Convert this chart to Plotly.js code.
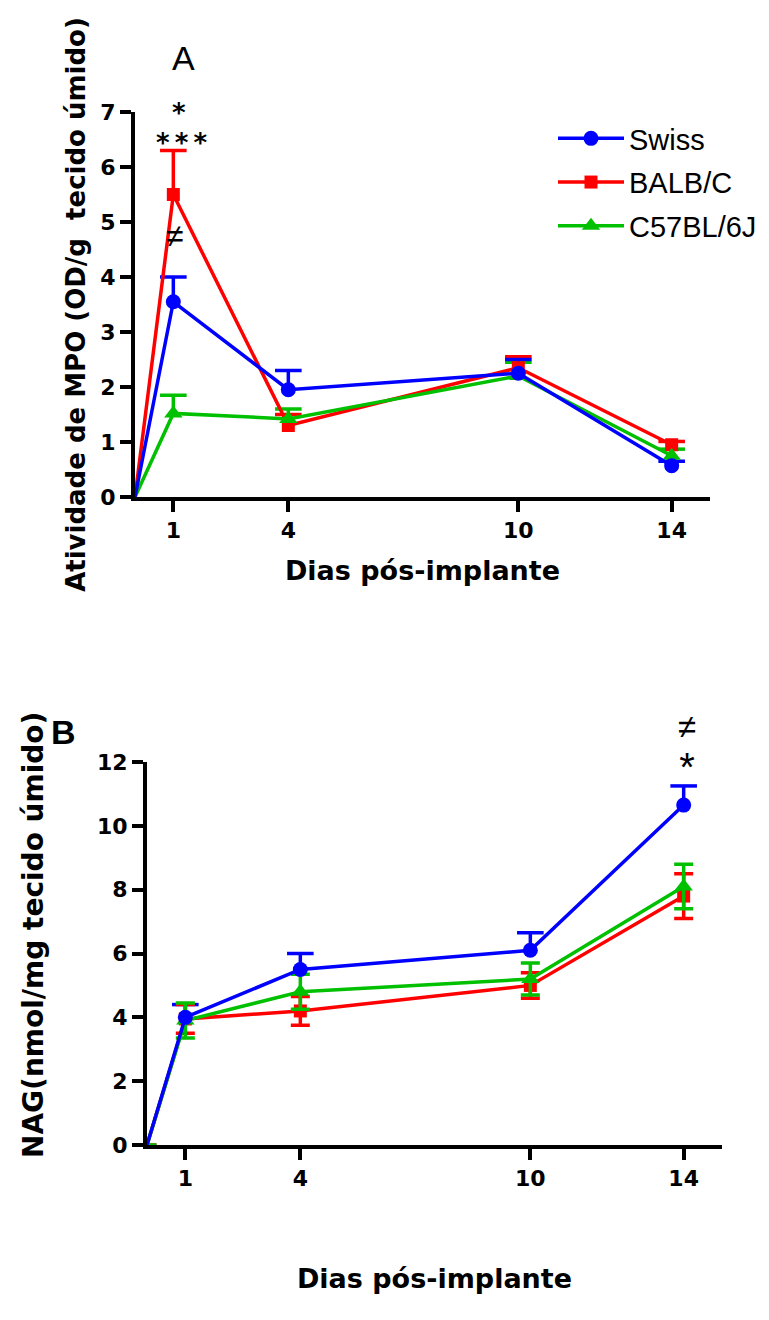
<!DOCTYPE html>
<html>
<head>
<meta charset="utf-8">
<script src="https://cdn.plot.ly/plotly-3.0.1.min.js"></script>
<style>html,body{margin:0;padding:0;background:#fff;}#chart{width:769px;height:1320px;}</style>
</head>
<body>
<div id="chart"></div>
<script>
// ---- Data ----
const days = [0, 1, 4, 10, 14];
const seriesNames = ["Swiss", "BALB/C", "C57BL/6J"];

// Panel A: MPO activity (mean, SEM)
const mpoSwiss = [0, 3.55, 1.95, 2.25, 0.57];
const mpoSwissErr = [0, 0.45, 0.35, 0.25, 0.08];
const mpoBalb = [0, 5.5, 1.3, 2.35, 0.95];
const mpoBalbErr = [0, 0.8, 0.2, 0.2, 0.06];
const mpoC57 = [0, 1.52, 1.42, 2.2, 0.75];
const mpoC57Err = [0, 0.33, 0.18, 0.25, 0.12];

// Panel B: NAG (mean, SEM)
const nagSwiss = [0, 4.0, 5.5, 6.1, 10.65];
const nagSwissErr = [0, 0.4, 0.5, 0.55, 0.6];
const nagBalb = [0, 3.95, 4.2, 5.0, 7.8];
const nagBalbErr = [0, 0.45, 0.45, 0.4, 0.7];
const nagC57 = [0, 3.9, 4.8, 5.2, 8.1];
const nagC57Err = [0, 0.55, 0.55, 0.5, 0.7];

const xTicks = [1, 4, 10, 14];
const xTickLabels = ["1", "4", "10", "14"];

// ---- Styles ----
const colors = ["#0000FF", "#FF0000", "#00C000"];
const symbols = ["circle", "square", "triangle-up"];
const msizes = [15, 13, 16];
const FONT = "Arial, 'Liberation Sans', Helvetica, sans-serif";
const BOLDFONT = "'DejaVu Sans', Verdana, sans-serif";
const LW = 3.5;
const CAPW = 19;

// main line+marker trace
function mainTrace(i, y, err, xa, ya, symmetric) {
  const t = {
    x: days, y: y, type: "scatter", mode: "lines+markers",
    name: seriesNames[i], showlegend: false,
    xaxis: xa, yaxis: ya, cliponaxis: false,
    line: { color: colors[i], width: LW },
    marker: { color: colors[i], symbol: symbols[i], opacity: 1,
      size: days.map((d, k) => k === 0 ? 0 : msizes[i]), line: { width: 0 } }
  };
  if (symmetric) {
    t.error_y = { type: "data", array: err, symmetric: true, visible: true,
      color: colors[i], thickness: LW, width: CAPW / 2 };
  }
  return t;
}
// upper-only error bar: cap marker at mean+err with a stem down to the mean
function upperErr(i, y, err, xa, ya) {
  return {
    x: days, y: y.map((v, k) => k === 0 ? null : v + err[k]),
    type: "scatter", mode: "markers", showlegend: false, hoverinfo: "skip",
    xaxis: xa, yaxis: ya, cliponaxis: false,
    marker: { symbol: "line-ew", size: CAPW, color: colors[i], opacity: 1,
      line: { color: colors[i], width: LW } },
    error_y: { type: "data", symmetric: false, array: err.map(() => 0), arrayminus: err,
      visible: true, color: colors[i], thickness: LW, width: 0 }
  };
}

const data = [
  upperErr(1, mpoBalb, mpoBalbErr, "x", "y"),
  upperErr(2, mpoC57, mpoC57Err, "x", "y"),
  upperErr(0, mpoSwiss, mpoSwissErr, "x", "y"),
  mainTrace(1, mpoBalb, mpoBalbErr, "x", "y", false),
  mainTrace(2, mpoC57, mpoC57Err, "x", "y", false),
  mainTrace(0, mpoSwiss, mpoSwissErr, "x", "y", false),
  upperErr(0, nagSwiss, nagSwissErr, "x2", "y2"),
  mainTrace(1, nagBalb, nagBalbErr, "x2", "y2", true),
  mainTrace(2, nagC57, nagC57Err, "x2", "y2", true),
  mainTrace(0, nagSwiss, nagSwissErr, "x2", "y2", false)
];
// legend entries (Swiss, BALB/C, C57BL/6J)
[0, 1, 2].forEach(i => {
  data.push({
    x: [null], y: [null], type: "scatter", mode: "lines+markers",
    name: seriesNames[i], legendgroup: "g" + i, showlegend: true,
    xaxis: "x", yaxis: "y",
    line: { color: colors[i], width: LW },
    marker: { color: colors[i], symbol: symbols[i], size: msizes[i] }
  });
});

const W = 769, H = 1320;
const axisCommon = {
  showline: true, linewidth: 4, linecolor: "#000",
  ticks: "outside", ticklen: 11, tickwidth: 4, tickcolor: "#000",
  showgrid: false, zeroline: false, fixedrange: true,
  tickfont: { family: BOLDFONT, size: 22, color: "#000", weight: "bold" }
};
function tf(size) { return { family: BOLDFONT, size: size, weight: "bold", color: "#000" }; }
const big = (s, px) => "<span style='font-size:" + px + "px'>" + s + "</span>";

const layout = {
  width: W, height: H,
  margin: { l: 0, r: 0, t: 0, b: 0 },
  paper_bgcolor: "#fff", plot_bgcolor: "#fff",
  font: { family: FONT, color: "#000" },
  showlegend: true,
  legend: {
    x: 553 / W, y: 1 - 113 / H, xanchor: "left", yanchor: "top",
    font: { family: FONT, size: 29, color: "#000" },
    itemwidth: 66, tracegroupgap: 3, traceorder: "grouped",
    bgcolor: "rgba(0,0,0,0)"
  },
  xaxis: Object.assign({}, axisCommon, {
    domain: [135 / W, 710 / W], range: [0, 15], anchor: "y",
    tickmode: "array", tickvals: xTicks, ticktext: xTickLabels,
    title: { text: "Dias pós-implante", standoff: 20, font: tf(27) }
  }),
  yaxis: Object.assign({}, axisCommon, {
    domain: [1 - 497 / H, 1 - 112 / H], range: [0, 7], anchor: "x",
    tickmode: "linear", tick0: 0, dtick: 1,
    title: { text: "Atividade de MPO (OD/g  tecido úmido)", standoff: 8, font: tf(26) }
  }),
  xaxis2: Object.assign({}, axisCommon, {
    domain: [147 / W, 722 / W], range: [0, 15], anchor: "y2",
    tickmode: "array", tickvals: xTicks, ticktext: xTickLabels,
    title: { text: "Dias pós-implante", standoff: 80, font: tf(27) }
  }),
  yaxis2: Object.assign({}, axisCommon, {
    domain: [1 - 1145 / H, 1 - 762 / H], range: [0, 12], anchor: "x2",
    tickmode: "linear", tick0: 0, dtick: 2
  }),
  annotations: [
    { text: "NAG(nmol/mg tecido úmido)", xref: "paper", yref: "paper",
      x: 33 / W, y: 1 - 935 / H, xanchor: "center", yanchor: "middle",
      textangle: -90, showarrow: false, font: tf(28) },
    { text: "A", xref: "paper", yref: "paper", x: 183 / W, y: 1 - 58 / H,
      xanchor: "center", yanchor: "middle", showarrow: false,
      font: { family: FONT, size: 34, color: "#000" } },
    { text: "B", xref: "paper", yref: "paper", x: 63 / W, y: 1 - 732 / H,
      xanchor: "center", yanchor: "middle", showarrow: false,
      font: { family: FONT, size: 34, color: "#000", weight: "bold" } },
    { text: "*", xref: "x", yref: "paper", x: 1.15, y: 1 - 113 / H,
      xanchor: "center", yanchor: "middle", borderpad: 0,
      showarrow: false, font: tf(26) },
    { text: "*\u2009*\u2009*", xref: "x", yref: "paper", x: 1.22, y: 1 - 143 / H,
      xanchor: "center", yanchor: "middle", borderpad: 0,
      showarrow: false, font: tf(26) },
    { text: "≠", xref: "x", yref: "paper", x: 1.05, y: 1 - 236 / H, yanchor: "middle",
      showarrow: false, font: { family: FONT, size: 32, color: "#000" } },
    { text: "≠<br>" + big("*", 40), xref: "x2", yref: "paper", x: 14.08, y: 1 - 748 / H,
      xanchor: "center", yanchor: "middle", align: "center",
      showarrow: false, font: { family: FONT, size: 33, color: "#000" } }
  ]
};

Plotly.newPlot("chart", data, layout, { staticPlot: true, displayModeBar: false });
</script>
</body>
</html>
